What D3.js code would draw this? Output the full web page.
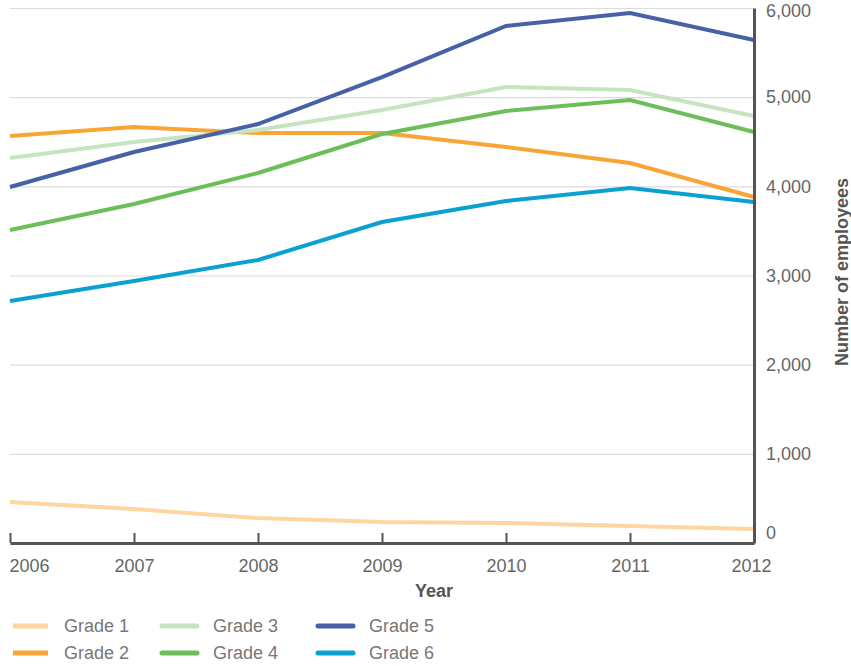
<!DOCTYPE html>
<html>
<head>
<meta charset="utf-8">
<script src="https://cdn.jsdelivr.net/npm/d3@7"></script>
<style>
  body { margin: 0; background: #fff; }
  svg text { font-family: "Liberation Sans", Arial, sans-serif; }
</style>
</head>
<body>
<svg id="chart"></svg>
<script>
// data
var years = [2006, 2007, 2008, 2009, 2010, 2011, 2012];
var grade1 = [460, 380, 280, 235, 225, 190, 157];
var grade2 = [4565, 4665, 4598, 4598, 4441, 4262, 3880];
var grade3 = [4318, 4497, 4632, 4856, 5114, 5080, 4789];
var grade4 = [3510, 3802, 4150, 4587, 4845, 4968, 4609];
var grade5 = [3992, 4385, 4699, 5226, 5798, 5944, 5641];
var grade6 = [2714, 2938, 3174, 3600, 3835, 3981, 3824];
var yTicks = [0, 1000, 2000, 3000, 4000, 5000, 6000];

var seriesNames = ["Grade 1", "Grade 2", "Grade 3", "Grade 4", "Grade 5", "Grade 6"];
var seriesColors = ["#fed6a2", "#f8a535", "#c6e4c0", "#6cbe5b", "#4661a6", "#0aa0d2"];
var seriesValues = [grade1, grade2, grade3, grade4, grade5, grade6];

var width = 851, height = 666;
var plot = {left: 10, right: 754, top: 8, bottom: 543};

var svg = d3.select("#chart").attr("width", width).attr("height", height);

var x = d3.scaleLinear().domain([2006, 2012]).range([plot.left, plot.right]);
var y = d3.scaleLinear().domain([0, 6000]).range([plot.bottom, plot.top]);

// gridlines
svg.append("g")
   .selectAll("line")
   .data(yTicks.slice(1))
   .enter()
   .append("line")
   .attr("x1", plot.left)
   .attr("x2", plot.right)
   .attr("y1", function(d) { return y(d) + 0.5; })
   .attr("y2", function(d) { return y(d) + 0.5; })
   .attr("stroke", "#dcdcdc")
   .attr("stroke-width", 1.2);

// lines
var line = d3.line()
  .x(function(d, i) { return x(years[i]); })
  .y(function(d) { return y(d); });

svg.append("g")
   .selectAll("path")
   .data(seriesValues)
   .enter()
   .append("path")
   .attr("d", line)
   .attr("fill", "none")
   .attr("stroke", function(d, i) { return seriesColors[i]; })
   .attr("stroke-width", 4);

// x axis (ticks point up)
var xAxis = svg.append("g")
   .attr("transform", "translate(0," + plot.bottom + ")")
   .call(d3.axisBottom(x).tickValues(years).tickFormat(d3.format("d")).tickSizeInner(-10).tickSizeOuter(0).tickPadding(16));
xAxis.select(".domain").attr("stroke", "#555").attr("stroke-width", 3);
xAxis.selectAll(".tick line").attr("stroke", "#555").attr("stroke-width", 2);
xAxis.selectAll("text").attr("font-size", "18px").attr("fill", "#666")
     .attr("text-anchor", function(d) { return d == 2006 ? "start" : "middle"; })
     .attr("dx", function(d) { return d == 2006 ? "-1" : d == 2012 ? "-3" : "0"; });

// y axis on the right
var yAxis = svg.append("g")
   .attr("transform", "translate(" + plot.right + ",0)")
   .call(d3.axisRight(y).tickValues(yTicks).tickFormat(d3.format(",")).tickSize(0).tickPadding(12));
yAxis.select(".domain").attr("stroke", "#555").attr("stroke-width", 3);
yAxis.selectAll("text").attr("font-size", "18px").attr("fill", "#666")
     .attr("dy", function(d) { return d == 0 ? "-0.25em" : d == 6000 ? "0.45em" : "0.32em"; });

// axis titles
svg.append("text")
   .attr("x", 434)
   .attr("y", 597)
   .attr("text-anchor", "middle")
   .attr("font-size", "18px")
   .attr("font-weight", "bold")
   .attr("fill", "#555")
   .text("Year");

svg.append("text")
   .attr("transform", "translate(848," + 272 + ")rotate(-90)")
   .attr("text-anchor", "middle")
   .attr("font-size", "18px")
   .attr("font-weight", "bold")
   .attr("fill", "#555")
   .text("Number of employees");

// legend
var legendCols = [13, 162, 318];
var legendRows = [626, 653];
var legend = svg.append("g")
   .selectAll("g")
   .data(seriesNames)
   .enter()
   .append("g")
   .attr("transform", function(d, i) {
     return "translate(" + legendCols[Math.floor(i / 2)] + "," + legendRows[i % 2] + ")";
   });
legend.append("line")
   .attr("x1", 0).attr("x2", 35)
   .attr("stroke", function(d, i) { return seriesColors[i]; })
   .attr("stroke-width", 5)
   .attr("stroke-linecap", function(d, i) { return i < 2 ? "butt" : "round"; });
legend.append("text")
   .attr("x", 51)
   .attr("dy", "0.35em")
   .attr("font-size", "18px")
   .attr("fill", "#777")
   .text(function(d) { return d; });
</script>
</body>
</html>
